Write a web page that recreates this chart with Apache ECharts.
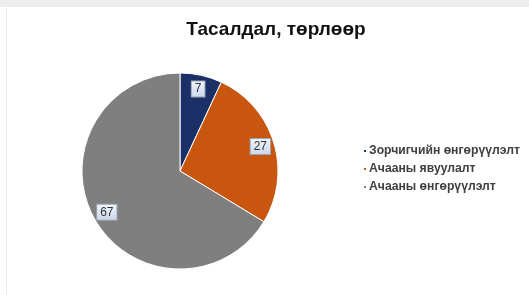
<!DOCTYPE html>
<html>
<head>
<meta charset="utf-8">
<script src="https://cdn.jsdelivr.net/npm/echarts@6/dist/echarts.min.js"></script>
<style>
html, body { margin: 0; padding: 0; background: #fff; }
#main { width: 529px; height: 295px; }
</style>
</head>
<body>
<div id="main"></div>
<script>
// Тасалдал, төрлөөр
var titleText = 'Тасалдал, төрлөөр';
var categories = ['Зорчигчийн өнгөрүүлэлт', 'Ачааны явуулалт', 'Ачааны өнгөрүүлэлт'];
var values = [7, 27, 67];
var colors = ['#1b3066', '#c8560f', '#7f7f7f'];

var chart = echarts.init(document.getElementById('main'));

var pieData = categories.map(function (name, i) {
    return { name: name, value: values[i] };
});

var option = {
    backgroundColor: '#fff',
    animation: false,
    color: colors,
    title: {
        text: titleText,
        left: 271,
        top: 15,
        textAlign: 'center',
        textStyle: {
            fontFamily: 'Liberation Sans, Arial, sans-serif',
            fontSize: 19,
            fontWeight: 'bold',
            color: '#111'
        }
    },
    legend: {
        orient: 'vertical',
        left: 357,
        top: 140,
        itemWidth: 4,
        itemHeight: 4,
        itemGap: 6,
        icon: 'rect',
        textStyle: {
            fontFamily: 'Liberation Sans, Arial, sans-serif',
            fontSize: 12.2,
            fontWeight: 'bold',
            color: '#404040',
            padding: [0, 0, 0, -3]
        },
        data: categories
    },
    graphic: [
        { type: 'rect', shape: { x: 0, y: 0, width: 529, height: 7 }, style: { fill: '#eeeeee' }, silent: true },
        { type: 'rect', shape: { x: 6, y: 7, width: 1, height: 288 }, style: { fill: '#ececec' }, silent: true }
    ],
    series: [
        {
            type: 'pie',
            center: [180, 171],
            radius: [0, 98],
            startAngle: 90,
            clockwise: true,
            label: { show: false },
            labelLine: { show: false },
            itemStyle: { borderColor: '#fff', borderWidth: 1 },
            emphasis: { disabled: true },
            data: pieData
        },
        {
            // label-only ring so labels sit near the outer edge
            type: 'pie',
            center: [180, 171],
            radius: [64, 98],
            startAngle: 90,
            clockwise: true,
            silent: true,
            legendHoverLink: false,
            itemStyle: { color: 'rgba(0,0,0,0)' },
            emphasis: { disabled: true },
            labelLine: { show: false },
            label: {
                show: true,
                position: 'inside',
                formatter: '{c}',
                fontFamily: 'Liberation Sans, Arial, sans-serif',
                fontSize: 12,
                color: '#333',
                backgroundColor: {
                    type: 'linear', x: 0, y: 0, x2: 0, y2: 1,
                    colorStops: [{ offset: 0, color: '#f4f7fc' }, { offset: 1, color: '#c9d6ea' }]
                },
                borderColor: '#9aa3b3',
                borderWidth: 1,
                padding: [2, 3, 1, 3]
            },
            data: pieData.map(function (d) {
                return { name: d.name + ' ', value: d.value };
            })
        }
    ]
};

chart.setOption(option);
</script>
</body>
</html>
